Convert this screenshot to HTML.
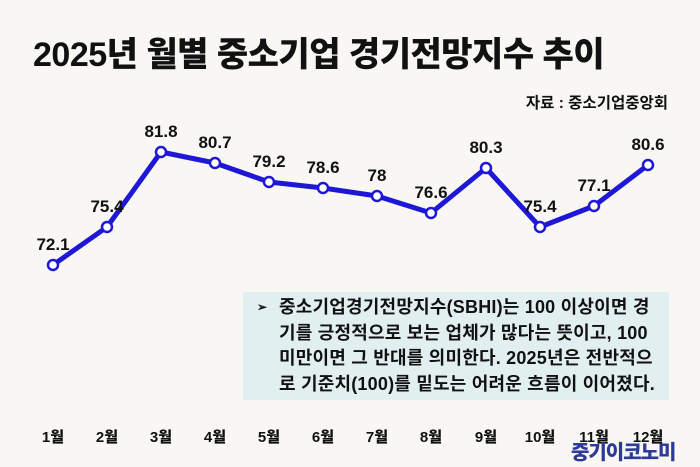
<!DOCTYPE html><html><head><meta charset="utf-8"><style>
body{margin:0;width:700px;height:467px;background:#f8f7f3;overflow:hidden;position:relative;font-family:"Liberation Sans","Noto Sans CJK KR",sans-serif}
.t{position:absolute;left:33px;top:27px;font-size:34px;font-weight:900;color:#111;letter-spacing:-0.5px;white-space:nowrap}
.s{position:absolute;right:32px;top:91px;font-size:15.5px;font-weight:700;color:#111}
.box{position:absolute;left:243px;top:292px;width:426px;height:108px;background:#e2eff1}
.box p{margin:0;position:absolute;left:14px;top:3px;font-size:18px;font-weight:700;line-height:25.5px;color:#111;padding-left:22px;white-space:nowrap;letter-spacing:0.2px}
.box span{position:absolute;left:0;top:0;font-size:12px}
.m{position:absolute;top:426px;font-size:15px;font-weight:900;color:#111;transform:translateX(-50%)}
.logo{position:absolute;left:571px;top:436px;font-size:20px;font-weight:900;color:#2d3a9a;letter-spacing:-1px}
</style></head><body>
<div class="t">2025년 월별 중소기업 경기전망지수 추이</div>
<div class="s">자료 : 중소기업중앙회</div>
<svg width="700" height="467" style="position:absolute;left:0;top:0">
<polyline fill="none" stroke="#1f17d6" stroke-width="5" stroke-linejoin="round" points="53,265 107,227 161,152 215,163 269,182 323,188 377,196 431,213 486,168 540,227 594,206 648,165"/>
<g fill="#fff" stroke="#1f17d6" stroke-width="2.5">
<circle cx="53" cy="265" r="5"/><circle cx="107" cy="227" r="5"/><circle cx="161" cy="152" r="5"/><circle cx="215" cy="163" r="5"/><circle cx="269" cy="182" r="5"/><circle cx="323" cy="188" r="5"/><circle cx="377" cy="196" r="5"/><circle cx="431" cy="213" r="5"/><circle cx="486" cy="168" r="5"/><circle cx="540" cy="227" r="5"/><circle cx="594" cy="206" r="5"/><circle cx="648" cy="165" r="5"/></g>
<g font-family="Liberation Sans" font-weight="700" font-size="17" fill="#111" text-anchor="middle">
<text x="53" y="250">72.1</text><text x="107" y="212">75.4</text><text x="161" y="137">81.8</text><text x="215" y="148">80.7</text><text x="269" y="167">79.2</text><text x="323" y="173">78.6</text><text x="377" y="181">78</text><text x="431" y="198">76.6</text><text x="486" y="153">80.3</text><text x="540" y="212">75.4</text><text x="594" y="191">77.1</text><text x="648" y="150">80.6</text></g>
</svg>
<div class="box"><p><span>➢</span>중소기업경기전망지수(SBHI)는 100 이상이면 경<br>기를 긍정적으로 보는 업체가 많다는 뜻이고, 100<br>미만이면 그 반대를 의미한다. 2025년은 전반적으<br>로 기준치(100)를 밑도는 어려운 흐름이 이어졌다.</p></div>
<div class="m" style="left:53px">1월</div><div class="m" style="left:107px">2월</div><div class="m" style="left:161px">3월</div><div class="m" style="left:215px">4월</div><div class="m" style="left:269px">5월</div><div class="m" style="left:323px">6월</div><div class="m" style="left:377px">7월</div><div class="m" style="left:431px">8월</div><div class="m" style="left:486px">9월</div><div class="m" style="left:540px">10월</div><div class="m" style="left:594px">11월</div><div class="m" style="left:648px">12월</div>
<div class="logo">중기이코노미</div>
</body></html>
